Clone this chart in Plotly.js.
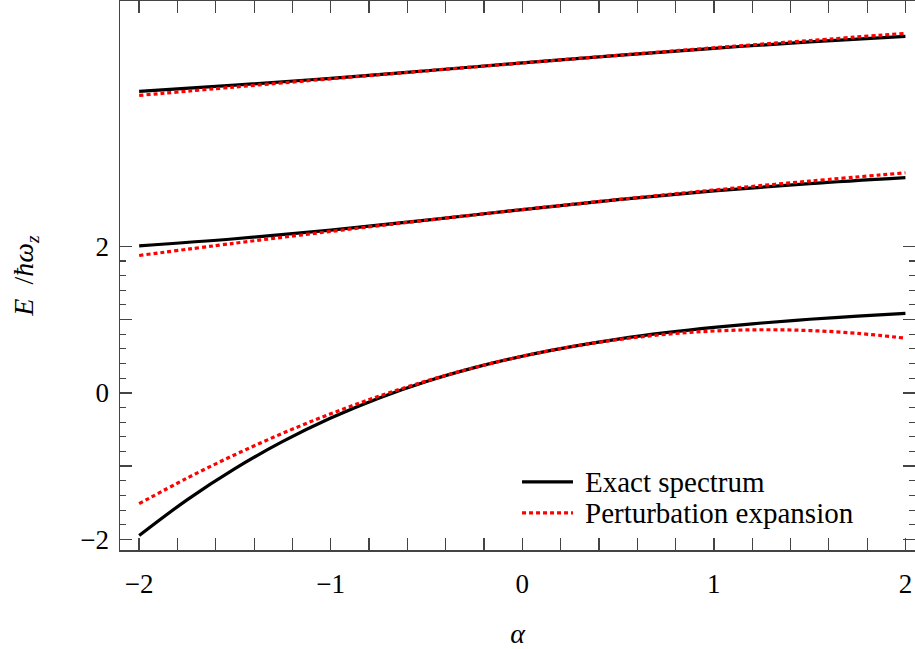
<!DOCTYPE html>
<html>
<head>
<meta charset="utf-8">
<script src="https://cdn.plot.ly/plotly-3.0.1.min.js"></script>
<style>html,body{margin:0;padding:0;background:#fff;}#chart{width:915px;height:649px;}</style>
</head>
<body>
<div id="chart"></div>
<script>
// alpha grids
var alphaFine = [-2, -1.75, -1.5, -1.25, -1, -0.75, -0.5, -0.25, 0, 0.25, 0.5, 0.75, 1, 1.25, 1.5, 1.75, 2];
var alphaCoarse = [-2, -1.5, -1, -0.5, 0, 0.5, 1, 1.5, 2];

// Exact spectrum (E / hbar omega_z)
var exactLevel0 = [-1.946, -1.459, -1.033, -0.662, -0.343, -0.072, 0.156, 0.344, 0.5, 0.628, 0.734, 0.821, 0.893, 0.953, 1.004, 1.047, 1.084];
var exactLevel1 = [2.005, 2.102, 2.221, 2.357, 2.5, 2.635, 2.755, 2.855, 2.937];
var exactLevel2 = [4.113, 4.197, 4.291, 4.394, 4.5, 4.604, 4.700, 4.787, 4.862];

// Perturbation expansion
var pertLevel0 = [-1.511, -1.163, -0.843, -0.550, -0.285, -0.047, 0.163, 0.345, 0.5, 0.627, 0.727, 0.799, 0.844, 0.861, 0.850, 0.812, 0.746];
var pertLevel1 = [1.874, 2.042, 2.202, 2.355, 2.5, 2.637, 2.767, 2.888, 3.002];
var pertLevel2 = [4.057, 4.172, 4.284, 4.393, 4.5, 4.605, 4.707, 4.806, 4.903];

// tick labels
var xTickVals = [-2, -1, 0, 1, 2];
var xTickText = ['\u22122', '\u22121', '0', '1', '2'];
var yTickVals = [-2, 0, 2];
var yTickText = ['\u22122', '0', '2'];
var yUnlabelledMajor = [-1, 1];
var seriesNames = ['Exact spectrum', 'Perturbation expansion'];

var xMinor = [];
for (var i = -10; i <= 10; i++) { if (i % 5 !== 0) xMinor.push(i / 5); }
var yMinor = [];
for (var j = -10; j <= 10; j++) { if (j % 5 !== 0) yMinor.push(j / 5); }

var exactStyle = {color: '#000000', width: 3.2, shape: 'spline', smoothing: 1};
var pertStyle = {color: '#ff0000', width: 3.2, dash: '4px,3px', shape: 'spline', smoothing: 1};

var traces = [
  {x: alphaFine, y: exactLevel0, mode: 'lines', line: exactStyle, name: seriesNames[0], showlegend: false},
  {x: alphaCoarse, y: exactLevel1, mode: 'lines', line: exactStyle, name: seriesNames[0], showlegend: false},
  {x: alphaCoarse, y: exactLevel2, mode: 'lines', line: exactStyle, name: seriesNames[0], showlegend: false},
  {x: alphaFine, y: pertLevel0, mode: 'lines', line: pertStyle, name: seriesNames[1], showlegend: false},
  {x: alphaCoarse, y: pertLevel1, mode: 'lines', line: pertStyle, name: seriesNames[1], showlegend: false},
  {x: alphaCoarse, y: pertLevel2, mode: 'lines', line: pertStyle, name: seriesNames[1], showlegend: false}
];

var axisColor = '#444444';
var fontFam = 'Liberation Serif, Times New Roman, serif';
var yRange = [-2.143, 5.345];

var layout = {
  width: 915, height: 649,
  margin: {l: 120, r: 0, t: 1, b: 99, pad: 0},
  paper_bgcolor: '#ffffff', plot_bgcolor: '#ffffff',
  showlegend: false,
  font: {family: fontFam, color: '#000000', size: 26},
  xaxis: {
    range: [-2.1, 2.05],
    tickmode: 'array', tickvals: xTickVals, ticktext: xTickText,
    ticks: 'inside', ticklen: 12, tickwidth: 1.5, tickcolor: axisColor,
    showline: true, linecolor: axisColor, linewidth: 1.5, mirror: 'allticks',
    showgrid: false, zeroline: false,
    tickfont: {family: fontFam, size: 27, color: '#000000'},
    ticklabelstandoff: 9,
    minor: {tickmode: 'array', tickvals: xMinor, ticks: 'inside', ticklen: 6, tickwidth: 1.2, tickcolor: axisColor, showgrid: false},
    title: {text: '<i>\u03b1</i>', font: {family: fontFam, size: 28, color: '#000000'}, standoff: 34}
  },
  yaxis: {
    range: yRange,
    tickmode: 'array', tickvals: yTickVals, ticktext: yTickText,
    ticks: 'inside', ticklen: 12, tickwidth: 1.5, tickcolor: axisColor,
    showline: true, linecolor: axisColor, linewidth: 1.5, mirror: 'allticks',
    showgrid: false, zeroline: false,
    tickfont: {family: fontFam, size: 27, color: '#000000'},
    ticklabelstandoff: 4,
    minor: {tickmode: 'array', tickvals: yMinor, ticks: 'inside', ticklen: 6, tickwidth: 1.2, tickcolor: axisColor, showgrid: false},
    title: {text: '<i>E</i>\u00a0\u00a0/<i>\u0127\u03c9</i><sub><i>z</i></sub>', font: {family: fontFam, size: 28, color: '#000000'}, standoff: 38}
  },
  yaxis2: {
    range: yRange, overlaying: 'y', side: 'left',
    tickmode: 'array', tickvals: yUnlabelledMajor, showticklabels: false,
    ticks: 'inside', ticklen: 12, tickwidth: 1.5, tickcolor: axisColor,
    showline: false, mirror: 'ticks', showgrid: false, zeroline: false
  },
  shapes: [
    {type: 'line', xref: 'paper', yref: 'paper', x0: 0.5057, x1: 0.5698, y0: 0.124, y1: 0.124, line: {color: '#000000', width: 3.2}},
    {type: 'line', xref: 'paper', yref: 'paper', x0: 0.5057, x1: 0.5698, y0: 0.0675, y1: 0.0675, line: {color: '#ff0000', width: 3.2, dash: '4px,3px'}}
  ],
  annotations: [
    {xref: 'paper', yref: 'paper', x: 0.582, y: 0.124, xanchor: 'left', yanchor: 'middle', showarrow: false, text: seriesNames[0], font: {family: fontFam, size: 29, color: '#000000'}},
    {xref: 'paper', yref: 'paper', x: 0.582, y: 0.0675, xanchor: 'left', yanchor: 'middle', showarrow: false, text: seriesNames[1], font: {family: fontFam, size: 29, color: '#000000'}}
  ]
};

// invisible point that activates the overlaid tick-only axis
traces.push({x: [alphaCoarse[0]], y: [exactLevel1[0]], yaxis: 'y2', mode: 'markers', marker: {opacity: 0}, hoverinfo: 'skip', showlegend: false});

Plotly.newPlot('chart', traces, layout, {staticPlot: true, displayModeBar: false});
</script>
</body>
</html>
